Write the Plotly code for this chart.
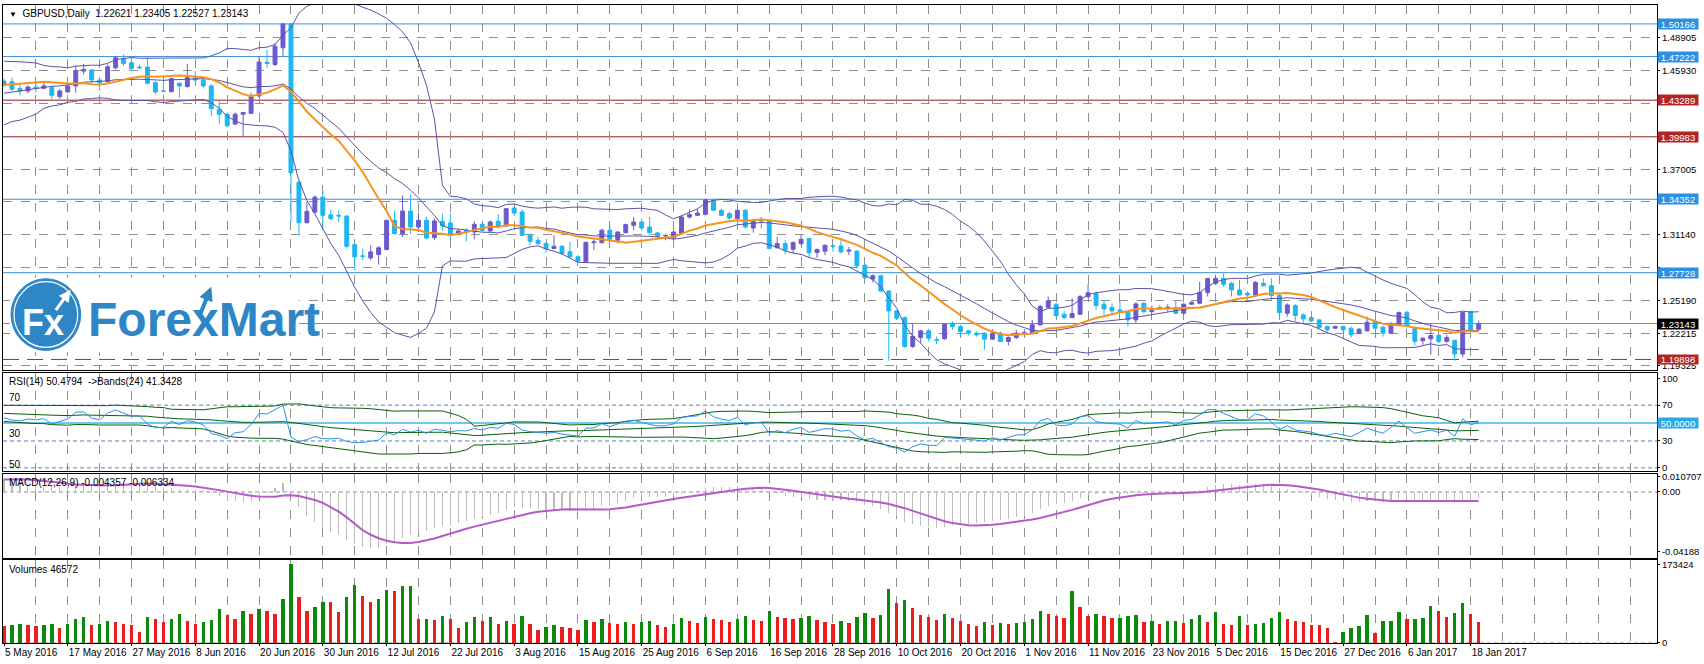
import plotly.graph_objects as go
from plotly.subplots import make_subplots
import pandas as pd

# ---------------- data ----------------
# closes of the bars that lie left of the visible window (only feed the indicators)
warmup_close = [1.4125, 1.4135, 1.4190, 1.4335, 1.4360, 1.4365, 1.4225, 1.4230, 1.4135, 1.4130,
                1.4095, 1.4170, 1.4285, 1.4210, 1.4235, 1.4160, 1.4260, 1.4340, 1.4300, 1.4375,
                1.4320, 1.4450, 1.4420, 1.4520, 1.4510, 1.4600, 1.4540, 1.4660, 1.4525, 1.4500]
warmup_volume = 40000

open_ = [1.4502, 1.4496, 1.4433, 1.4412, 1.4448, 1.4436, 1.4442, 1.4361, 1.4403, 1.4457,
         1.4591, 1.4600, 1.4511, 1.4496, 1.4621, 1.4702, 1.4666, 1.4627, 1.4627, 1.4487,
         1.4412, 1.4406, 1.4481, 1.4451, 1.4532, 1.4511, 1.4457, 1.4247, 1.4202, 1.4113,
         1.4202, 1.4211, 1.4367, 1.4672, 1.4651, 1.4801, 1.5015, 1.3589, 1.3224, 1.3319,
         1.3454, 1.3295, 1.3290, 1.3284, 1.3026, 1.2924, 1.2906, 1.2937, 1.2982, 1.3245,
         1.3125, 1.3329, 1.3185, 1.3245, 1.3089, 1.3236, 1.3221, 1.3125, 1.3155, 1.3140,
         1.3209, 1.3149, 1.3236, 1.3194, 1.3356, 1.3320, 1.3110, 1.3065, 1.3035, 1.2991,
         1.3011, 1.2961, 1.2916, 1.2871, 1.3044, 1.3044, 1.3155, 1.3065, 1.3134, 1.3200,
         1.3230, 1.3185, 1.3131, 1.3104, 1.3086, 1.3125, 1.3275, 1.3290, 1.3299, 1.3425,
         1.3335, 1.3305, 1.3260, 1.3335, 1.3176, 1.3245, 1.3236, 1.2997, 1.3035, 1.2985,
         1.3035, 1.3080, 1.2955, 1.2967, 1.3014, 1.3014, 1.2967, 1.2967, 1.2841, 1.2715,
         1.2745, 1.2607, 1.2428, 1.2368, 1.2107, 1.2188, 1.2248, 1.2167, 1.2176, 1.2317,
         1.2287, 1.2248, 1.2227, 1.2227, 1.2173, 1.2227, 1.2152, 1.2188, 1.2227, 1.2227,
         1.2302, 1.2458, 1.2488, 1.2398, 1.2368, 1.2398, 1.2557, 1.2586, 1.2488, 1.2458,
         1.2437, 1.2422, 1.2347, 1.2497, 1.2422, 1.2458, 1.2455, 1.2458, 1.2407, 1.2488,
         1.2497, 1.2593, 1.2676, 1.2721, 1.2676, 1.2617, 1.2587, 1.2572, 1.2676, 1.2655,
         1.2566, 1.2407, 1.2476, 1.2392, 1.2368, 1.2347, 1.2287, 1.2272, 1.2287, 1.2272,
         1.2227, 1.2248, 1.2332, 1.2281, 1.2227, 1.2302, 1.2413, 1.2278, 1.2159, 1.2176,
         1.2206, 1.2153, 1.2162, 1.2039, 1.2422, 1.22621]
high = [1.4523, 1.4532, 1.4472, 1.4463, 1.4487, 1.4487, 1.4457, 1.4427, 1.4472, 1.4642,
        1.4657, 1.4612, 1.4532, 1.4651, 1.4726, 1.4741, 1.4711, 1.4651, 1.4711, 1.4502,
        1.4457, 1.4532, 1.4487, 1.4657, 1.4591, 1.4532, 1.4472, 1.4322, 1.4217, 1.4217,
        1.4222, 1.4397, 1.4726, 1.4786, 1.4846, 1.5020, 1.5019, 1.3595, 1.3409, 1.3469,
        1.3514, 1.3343, 1.3334, 1.3290, 1.3030, 1.2990, 1.3020, 1.3012, 1.3250, 1.3335,
        1.3469, 1.3475, 1.3311, 1.3275, 1.3260, 1.3305, 1.3305, 1.3164, 1.3176, 1.3236,
        1.3230, 1.3245, 1.3299, 1.3356, 1.3371, 1.3344, 1.3125, 1.3095, 1.3050, 1.3110,
        1.3020, 1.3050, 1.2931, 1.3050, 1.3074, 1.3170, 1.3206, 1.3146, 1.3215, 1.3275,
        1.3260, 1.3275, 1.3140, 1.3125, 1.3155, 1.3290, 1.3344, 1.3350, 1.3439, 1.3439,
        1.3350, 1.3320, 1.3344, 1.3344, 1.3260, 1.3275, 1.3245, 1.3095, 1.3065, 1.3056,
        1.3116, 1.3086, 1.2991, 1.3026, 1.3026, 1.3065, 1.3005, 1.2976, 1.2847, 1.2757,
        1.2751, 1.2616, 1.2437, 1.2377, 1.2317, 1.2257, 1.2257, 1.2197, 1.2317, 1.2332,
        1.2302, 1.2257, 1.2242, 1.2233, 1.2242, 1.2242, 1.2197, 1.2257, 1.2248, 1.2347,
        1.2482, 1.2557, 1.2497, 1.2428, 1.2542, 1.2571, 1.2667, 1.2595, 1.2527, 1.2497,
        1.2512, 1.2437, 1.2506, 1.2506, 1.2476, 1.2482, 1.2488, 1.2527, 1.2497, 1.2512,
        1.2691, 1.2725, 1.2751, 1.2766, 1.2691, 1.2706, 1.2602, 1.2697, 1.2721, 1.2721,
        1.2572, 1.2497, 1.2488, 1.2407, 1.2377, 1.2356, 1.2296, 1.2296, 1.2296, 1.2287,
        1.2272, 1.2377, 1.2356, 1.2293, 1.2326, 1.2422, 1.2428, 1.2287, 1.2188, 1.2317,
        1.2218, 1.2212, 1.2168, 1.2418, 1.2425, 1.23405]
low = [1.4451, 1.4412, 1.4373, 1.4391, 1.4397, 1.4427, 1.4337, 1.4337, 1.4397, 1.4397,
       1.4561, 1.4487, 1.4412, 1.4487, 1.4606, 1.4636, 1.4591, 1.4606, 1.4472, 1.4382,
       1.4403, 1.4397, 1.4352, 1.4442, 1.4487, 1.4442, 1.4187, 1.4113, 1.4083, 1.4104,
       1.4008, 1.4202, 1.4352, 1.4621, 1.4636, 1.4726, 1.3230, 1.3110, 1.3215, 1.3304,
       1.3170, 1.3245, 1.3230, 1.2990, 1.2796, 1.2885, 1.2885, 1.2847, 1.2975, 1.3120,
       1.3095, 1.3125, 1.3140, 1.3074, 1.3065, 1.3155, 1.3065, 1.3110, 1.3056, 1.3074,
       1.3140, 1.3140, 1.3185, 1.3185, 1.3284, 1.3104, 1.3020, 1.3026, 1.2952, 1.2985,
       1.2937, 1.2907, 1.2871, 1.2865, 1.2976, 1.3035, 1.3065, 1.3035, 1.3125, 1.3155,
       1.3155, 1.3110, 1.3086, 1.3065, 1.3074, 1.3116, 1.3260, 1.3284, 1.3290, 1.3332,
       1.3284, 1.3245, 1.3245, 1.3170, 1.3134, 1.3170, 1.2985, 1.2991, 1.2937, 1.2946,
       1.3020, 1.2907, 1.2907, 1.2931, 1.2961, 1.2946, 1.2931, 1.2811, 1.2715, 1.2685,
       1.2601, 1.1979, 1.2347, 1.2093, 1.2093, 1.2137, 1.2152, 1.2128, 1.2167, 1.2257,
       1.2203, 1.2206, 1.2197, 1.2078, 1.2167, 1.2146, 1.2116, 1.2176, 1.2212, 1.2219,
       1.2293, 1.2452, 1.2362, 1.2353, 1.2362, 1.2392, 1.2542, 1.2437, 1.2392, 1.2392,
       1.2407, 1.2287, 1.2317, 1.2407, 1.2407, 1.2437, 1.2422, 1.2398, 1.2398, 1.2482,
       1.2488, 1.2557, 1.2661, 1.2646, 1.2557, 1.2566, 1.2566, 1.2566, 1.2646, 1.2527,
       1.2362, 1.2377, 1.2338, 1.2317, 1.2326, 1.2266, 1.2218, 1.2266, 1.2236, 1.2188,
       1.2218, 1.2242, 1.2263, 1.2197, 1.2218, 1.2296, 1.2278, 1.2117, 1.2123, 1.2033,
       1.2138, 1.2138, 1.1979, 1.2009, 1.2242, 1.22527]
close = [1.4466, 1.4427, 1.4412, 1.4448, 1.4436, 1.4457, 1.4373, 1.4412, 1.4457, 1.4597,
         1.4606, 1.4511, 1.4487, 1.4630, 1.4711, 1.4660, 1.4615, 1.4621, 1.4481, 1.4403,
         1.4409, 1.4523, 1.4457, 1.4532, 1.4511, 1.4457, 1.4253, 1.4202, 1.4098, 1.4202,
         1.4217, 1.4361, 1.4672, 1.4660, 1.4816, 1.5016, 1.3673, 1.3224, 1.3325, 1.3454,
         1.3290, 1.3260, 1.3284, 1.3011, 1.2915, 1.2921, 1.2960, 1.2997, 1.3245, 1.3125,
         1.3329, 1.3185, 1.3245, 1.3086, 1.3239, 1.3194, 1.3110, 1.3149, 1.3140, 1.3209,
         1.3155, 1.3230, 1.3194, 1.3350, 1.3311, 1.3110, 1.3056, 1.3035, 1.2991, 1.3011,
         1.2946, 1.2916, 1.2877, 1.3047, 1.3050, 1.3155, 1.3074, 1.3140, 1.3206, 1.3230,
         1.3176, 1.3134, 1.3104, 1.3107, 1.3140, 1.3275, 1.3296, 1.3311, 1.3430, 1.3335,
         1.3290, 1.3266, 1.3335, 1.3185, 1.3236, 1.3239, 1.2991, 1.3035, 1.2976, 1.3044,
         1.3074, 1.2952, 1.2982, 1.3020, 1.3011, 1.2961, 1.2976, 1.2835, 1.2727, 1.2745,
         1.2607, 1.2428, 1.2362, 1.2107, 1.2197, 1.2248, 1.2182, 1.2164, 1.2308, 1.2287,
         1.2242, 1.2227, 1.2212, 1.2173, 1.2227, 1.2152, 1.2188, 1.2227, 1.2230, 1.2302,
         1.2467, 1.2518, 1.2386, 1.2368, 1.2404, 1.2557, 1.2592, 1.2476, 1.2446, 1.2428,
         1.2422, 1.2347, 1.2491, 1.2422, 1.2437, 1.2455, 1.2461, 1.2407, 1.2488, 1.2506,
         1.2593, 1.2721, 1.2721, 1.2667, 1.2617, 1.2572, 1.2572, 1.2685, 1.2655, 1.2566,
         1.2413, 1.2482, 1.2386, 1.2356, 1.2338, 1.2278, 1.2257, 1.2287, 1.2257, 1.2212,
         1.2263, 1.2326, 1.2272, 1.2227, 1.2308, 1.2413, 1.2287, 1.2153, 1.2182, 1.2206,
         1.2153, 1.2188, 1.2039, 1.2413, 1.2248, 1.23143]
volume = [36700, 39000, 41000, 39000, 36700, 39000, 41000, 32000, 43000, 54000,
          57000, 39000, 41000, 48000, 46000, 43000, 39000, 23500, 57000, 54000,
          46000, 52000, 63000, 48000, 43000, 46000, 50000, 76000, 61000, 54000,
          70000, 65000, 74000, 70000, 65000, 96000, 173424, 101000, 70000, 79000,
          90000, 89500, 68000, 101000, 129000, 103000, 90000, 98000, 116000, 114000,
          125000, 125500, 52000, 52500, 50000, 59000, 52000, 32000, 46000, 57000,
          48000, 57000, 41000, 48000, 43000, 59000, 41000, 28000, 34500, 39000,
          34500, 34000, 28000, 50000, 46000, 52000, 45000, 41000, 47000, 43000,
          46000, 49000, 40000, 36000, 42000, 55000, 48000, 45000, 58000, 54000,
          50000, 47000, 52000, 60000, 51000, 48000, 70000, 58000, 55000, 52000,
          56000, 60000, 50000, 46000, 42000, 49000, 44000, 58000, 66000, 55000,
          62000, 120000, 88000, 95000, 78000, 62000, 58000, 50000, 63000, 55000,
          48000, 42000, 38000, 46000, 40000, 44000, 41000, 45000, 47000, 52000,
          70000, 64000, 60000, 55000, 114000, 80000, 60000, 64700, 58800, 54400,
          54600, 58800, 61000, 45600, 47800, 41200, 47800, 48100, 43400, 52200,
          61000, 45600, 67600, 41200, 39000, 58800, 39000, 41200, 43400, 54400,
          67600, 52200, 47800, 45600, 39000, 38600, 32300, 2200, 23500, 32300,
          36800, 61000, 21300, 47800, 48100, 67600, 52200, 52500, 54400, 80900,
          69800, 56600, 65400, 87500, 63200, 46572]

tick_labels = ["5 May 2016", "17 May 2016", "27 May 2016", "8 Jun 2016", "20 Jun 2016",
               "30 Jun 2016", "12 Jul 2016", "22 Jul 2016", "3 Aug 2016", "15 Aug 2016",
               "25 Aug 2016", "6 Sep 2016", "16 Sep 2016", "28 Sep 2016", "10 Oct 2016",
               "20 Oct 2016", "1 Nov 2016", "11 Nov 2016", "23 Nov 2016", "5 Dec 2016",
               "15 Dec 2016", "27 Dec 2016", "6 Jan 2017", "18 Jan 2017"]
price_ticks = [1.48905, 1.45930, 1.42955, 1.37005, 1.34115, 1.31140, 1.28165, 1.25190, 1.22215, 1.19325]
blue_levels = [1.50166, 1.47222, 1.34352, 1.27728]
red_levels = [1.43289, 1.39983]
support_level = 1.19898
bid_price = 1.23143
rsi_ticks = [100, 70, 30, 0]
rsi_levels = [70, 30, 0]
rsi_mid = 50
macd_ticks = [0.010707, 0.0, -0.04188]
macd_tick_text = ["0.010707", "0.00", "-0.04188"]
vol_ticks = [0, 173424]

title_main = "GBPUSD,Daily  1.22621 1.23405 1.22527 1.23143"
title_rsi = "RSI(14) 50.4794  ->Bands(24) 41.3428"
title_macd = "MACD(12,26,9) -0.004357 -0.006334"
title_vol = "Volumes 46572"

# ---------------- indicators ----------------
nw = len(warmup_close)
call = warmup_close + close
cs = pd.Series(call)
sma14 = cs.rolling(14).mean().iloc[nw:].tolist()
mid20 = cs.rolling(20).mean()
sd20 = cs.rolling(20).std(ddof=0)
bb_up = (mid20 + 2 * sd20).iloc[nw:].tolist()
bb_lo = (mid20 - 2 * sd20).iloc[nw:].tolist()
bb_mid = mid20.iloc[nw:].tolist()

# RSI(14), Wilder smoothing seeded with a simple average
P = 14
gains = [max(call[i] - call[i - 1], 0.0) for i in range(1, len(call))]
losses = [max(call[i - 1] - call[i], 0.0) for i in range(1, len(call))]
rsi_vals = [None] * len(call)
ag = sum(gains[:P]) / P
al = sum(losses[:P]) / P
rsi_vals[P] = 100 - 100 / (1 + ag / al) if al > 0 else 100.0
for i in range(P + 1, len(call)):
    ag = (ag * (P - 1) + gains[i - 1]) / P
    al = (al * (P - 1) + losses[i - 1]) / P
    rsi_vals[i] = 100 - 100 / (1 + ag / al) if al > 0 else 100.0
rsi_all = pd.Series(rsi_vals, dtype=float)
rm = rsi_all.rolling(24, min_periods=12).mean()
rsd = rsi_all.rolling(24, min_periods=12).std(ddof=0)
rsi = rsi_all.iloc[nw:].tolist()
rb_up = (rm + 2 * rsd).iloc[nw:].tolist()
rb_mid = rm.iloc[nw:].tolist()
rb_lo = (rm - 2 * rsd).iloc[nw:].tolist()

ema12 = cs.ewm(span=12, adjust=False).mean()
ema26 = cs.ewm(span=26, adjust=False).mean()
macd_all = ema12 - ema26
signal = macd_all.rolling(9).mean().iloc[nw:].tolist()
macd = macd_all.iloc[nw:].tolist()

prev_vol = [warmup_volume] + volume[:-1]
vol_colors = ["#0A8A0A" if v > p else "#EE1C1C" for v, p in zip(volume, prev_vol)]

x = list(range(len(close)))

# ---------------- styling ----------------
BULL = "#6A5ACD"
BEAR = "#1CB6F2"
BAND = "#5B52A6"
GRID = "#8F8F8F"
FONT = "Liberation Sans"
AX_FS = 9.5

fig = make_subplots(rows=4, cols=1, shared_xaxes=True, vertical_spacing=0.0)

fig.add_trace(go.Scatter(x=x, y=bb_up, mode="lines", line=dict(color=BAND, width=1), hoverinfo="skip"), 1, 1)
fig.add_trace(go.Scatter(x=x, y=bb_mid, mode="lines", line=dict(color=BAND, width=1), hoverinfo="skip"), 1, 1)
fig.add_trace(go.Scatter(x=x, y=bb_lo, mode="lines", line=dict(color=BAND, width=1), hoverinfo="skip"), 1, 1)
fig.add_trace(go.Candlestick(
    x=x, open=open_, high=high, low=low, close=close,
    increasing=dict(fillcolor=BULL, line=dict(color=BULL, width=1)),
    decreasing=dict(fillcolor=BEAR, line=dict(color=BEAR, width=1)),
    whiskerwidth=0, hoverinfo="skip"), 1, 1)
fig.add_trace(go.Scatter(x=x, y=sma14, mode="lines", line=dict(color="#F7931E", width=2), hoverinfo="skip"), 1, 1)

fig.add_trace(go.Scatter(x=x, y=rb_up, mode="lines", line=dict(color="#0B5E0B", width=1), hoverinfo="skip"), 2, 1)
fig.add_trace(go.Scatter(x=x, y=rb_mid, mode="lines", line=dict(color="#0B5E0B", width=1), hoverinfo="skip"), 2, 1)
fig.add_trace(go.Scatter(x=x, y=rb_lo, mode="lines", line=dict(color="#0B5E0B", width=1), hoverinfo="skip"), 2, 1)
fig.add_trace(go.Scatter(x=x, y=rsi, mode="lines", line=dict(color="#2F8FE8", width=1), hoverinfo="skip"), 2, 1)

fig.add_trace(go.Bar(x=x, y=macd, width=0.14, marker=dict(color="#BDBDBD", line=dict(width=0)), hoverinfo="skip"), 3, 1)
fig.add_trace(go.Scatter(x=x, y=signal, mode="lines", line=dict(color="#B35CC8", width=2), hoverinfo="skip"), 3, 1)

fig.add_trace(go.Bar(x=x, y=volume, width=0.42, marker=dict(color=vol_colors, line=dict(width=0)), hoverinfo="skip"), 4, 1)

W, H = 1704, 664
ml, mr, mt, mb = 2, 42, 2, 21
pw, ph = W - ml - mr, H - mt - mb


def py(pix):
    return (H - mb - pix) / ph


def px(pix):
    return (pix - ml) / pw


domains = {"yaxis": [py(369), 1.0], "yaxis2": [py(470), py(372)],
           "yaxis3": [py(558), py(473)], "yaxis4": [0.0, py(560)]}

xcommon = dict(range=[-0.125, 207.375], showline=True, mirror=True, linecolor="black", linewidth=1,
               tickmode="array", tickvals=list(range(0, 8 * len(tick_labels), 8)), ticktext=tick_labels,
               showgrid=True, gridcolor=GRID, griddash="dash", gridwidth=1, zeroline=False,
               minor=dict(tickmode="linear", tick0=0, dtick=4, showgrid=True, gridcolor=GRID,
                          griddash="dash", gridwidth=1),
               rangeslider=dict(visible=False), fixedrange=True)
for name in ["xaxis", "xaxis2", "xaxis3", "xaxis4"]:
    opts = dict(xcommon)
    if name == "xaxis4":
        opts.update(showticklabels=True, ticklabelposition="outside right", ticks="outside", tickangle=0,
                    ticklen=2, tickcolor="black", tickfont=dict(size=10, family=FONT, color="black"))
    else:
        opts.update(showticklabels=False, ticks="")
    fig.layout[name].update(**opts)

ycommon = dict(side="right", showline=True, mirror=True, linecolor="black", linewidth=1,
               ticks="outside", ticklen=2, tickcolor="black", zeroline=False, fixedrange=True,
               tickfont=dict(size=AX_FS, family=FONT, color="black"))
box_levels = blue_levels + red_levels + [support_level, bid_price]
price_text = ["" if min(abs(v - b) for b in box_levels) < 0.005 else f"{v:.5f}" for v in price_ticks]
fig.layout.yaxis.update(domain=domains["yaxis"], range=[1.18924, 1.51872], tickmode="array",
                        tickvals=price_ticks, ticktext=price_text,
                        showgrid=True, gridcolor=GRID, griddash="dash", **ycommon)
fig.layout.yaxis2.update(domain=domains["yaxis2"], range=[-3.3, 105.6], tickmode="array",
                         tickvals=rsi_ticks, ticktext=[str(v) for v in rsi_ticks], showgrid=False, **ycommon)
fig.layout.yaxis3.update(domain=domains["yaxis3"], range=[-0.0467, 0.0128], tickmode="array",
                         tickvals=macd_ticks, ticktext=macd_tick_text, showgrid=False, **ycommon)
fig.layout.yaxis4.update(domain=domains["yaxis4"], range=[0, 182205], tickmode="array",
                         tickvals=vol_ticks, ticktext=[str(v) for v in vol_ticks], showgrid=False, **ycommon)

shapes = []
annotations = []


def level_box(val, yref, bg, text=None, h=10):
    annotations.append(dict(xref="x domain", yref=yref, x=1.0, y=val, xanchor="left", yanchor="middle",
                            xshift=0, width=40, height=h, align="center", valign="middle",
                            text=text if text else f"{val:.5f}", showarrow=False,
                            bgcolor=bg, borderpad=0, font=dict(color="white", size=AX_FS, family=FONT)))


for v in blue_levels:
    shapes.append(dict(type="line", xref="x domain", yref="y", x0=0, x1=1, y0=v, y1=v,
                       line=dict(color="#3D8ED6", width=1), layer="below"))
    level_box(v, "y", "#2B8FE2")
for v in red_levels:
    shapes.append(dict(type="line", xref="x domain", yref="y", x0=0, x1=1, y0=v, y1=v,
                       line=dict(color="#8E1C1C", width=1), layer="below"))
    level_box(v, "y", "#B02424")
shapes.append(dict(type="line", xref="x domain", yref="y", x0=0, x1=1, y0=support_level, y1=support_level,
                   line=dict(color="#A83232", width=1, dash="16px,8px"), layer="below"))
level_box(support_level, "y", "#B02424", h=9)
shapes.append(dict(type="line", xref="x domain", yref="y", x0=0, x1=1, y0=bid_price, y1=bid_price,
                   line=dict(color="#7D8C99", width=1), layer="below"))
level_box(bid_price, "y", "black")

for v in rsi_levels:
    shapes.append(dict(type="line", xref="x2 domain", yref="y2", x0=0, x1=1, y0=v, y1=v,
                       line=dict(color="#5A82B4", width=1, dash="4px,3px"), layer="below"))
shapes.append(dict(type="line", xref="x2 domain", yref="y2", x0=0, x1=1, y0=rsi_mid, y1=rsi_mid,
                   line=dict(color="#3DB6E8", width=1.5), layer="below"))
level_box(rsi_mid, "y2", "#2BA8E6", text=f"{rsi_mid:.4f}")
shapes.append(dict(type="line", xref="x3 domain", yref="y3", x0=0, x1=1, y0=0, y1=0,
                   line=dict(color=GRID, width=1, dash="4px,3px"), layer="below"))
shapes.append(dict(type="line", xref="x4 domain", yref="y4", x0=0, x1=1, y0=0, y1=0,
                   line=dict(color=GRID, width=1, dash="4px,3px"), layer="below"))

# logo (white patch, circle, text)
LOGO = "#2F86C6"
shapes.append(dict(type="rect", xref="paper", yref="paper", x0=px(9), x1=px(299), y0=py(351), y1=py(276),
                   fillcolor="white", line=dict(width=0), layer="above"))
shapes.append(dict(type="circle", xref="paper", yref="paper", x0=px(10), x1=px(80), y0=py(349), y1=py(277),
                   fillcolor=LOGO, line=dict(color=LOGO, width=1), layer="above"))
shapes.append(dict(type="circle", xref="paper", yref="paper", x0=px(13), x1=px(77), y0=py(346), y1=py(280),
                   fillcolor="rgba(0,0,0,0)", line=dict(color="white", width=1.2), layer="above"))
annotations.append(dict(xref="paper", yref="paper", x=px(42), y=py(321), text="<b>Fx</b>", showarrow=False,
                        xanchor="center", yanchor="middle", font=dict(color="white", size=36, family=FONT)))
annotations.append(dict(xref="paper", yref="paper", x=px(70), y=py(288), ax=-16, ay=22, text="",
                        showarrow=True, arrowhead=2, arrowsize=0.8, arrowwidth=3, arrowcolor="white",
                        axref="pixel", ayref="pixel"))
annotations.append(dict(xref="paper", yref="paper", x=px(85), y=py(318), text="<b>ForexMart</b>",
                        showarrow=False, xanchor="left", yanchor="middle",
                        font=dict(color=LOGO, size=48, family=FONT)))
annotations.append(dict(xref="paper", yref="paper", x=px(211), y=py(285), ax=-12, ay=30, text="",
                        showarrow=True, arrowhead=2, arrowsize=0.7, arrowwidth=4, arrowcolor=LOGO,
                        axref="pixel", ayref="pixel"))

# panel captions
cap_font = dict(size=10, family=FONT, color="black")
captions = [(11, "<span style='font-size:8px'>▼</span>  " + title_main), (380, title_rsi),
            (396, "70"), (433, "30"), (464, "50"), (482, title_macd), (569, title_vol)]
for ypix, txt in captions:
    annotations.append(dict(xref="paper", yref="paper", x=px(6), y=py(ypix), xanchor="left", yanchor="middle",
                            showarrow=False, text=txt, font=cap_font))

fig.update_layout(width=W, height=H, margin=dict(l=ml, r=mr, t=mt, b=mb, pad=0),
                  paper_bgcolor="white", plot_bgcolor="white", showlegend=False,
                  font=dict(family=FONT, size=10, color="black"),
                  shapes=shapes, annotations=annotations, bargap=0, hovermode=False)

fig.write_html("out.html", config={"displayModeBar": False, "staticPlot": True},
               post_script="document.body.style.margin='0';document.body.style.overflow='hidden';")
